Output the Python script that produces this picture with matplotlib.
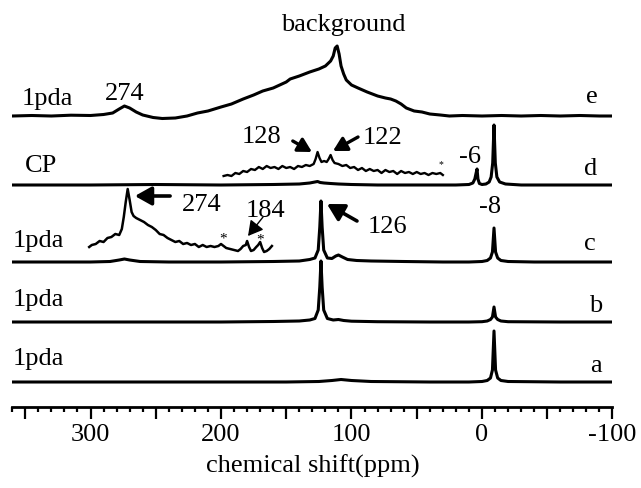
import matplotlib
matplotlib.use('Agg')
import matplotlib.pyplot as plt
from matplotlib.ticker import FixedLocator, MultipleLocator, FuncFormatter

plt.rcParams['font.family'] = ['Liberation Serif', 'DejaVu Serif']
plt.rcParams['axes.unicode_minus'] = False

# ---------------- data (ppm, intensity above each trace's baseline) ----------------
trace_labels = ['a', 'b', 'c', 'd', 'e']
left_labels = ['1pda', '1pda', '1pda', 'CP', '1pda']
offsets = [25, 85, 145, 222, 291]

e_ppm = [360, 345, 330, 315, 300, 290, 283, 278, 274, 270, 265, 260, 252, 245, 235, 226, 218, 210,
         200, 192, 183, 175, 168, 160, 155, 150, 147, 140, 132, 125, 120, 116, 114, 112.5, 111,
         109.5, 108, 106, 104, 100, 95, 88, 80, 74, 70, 66, 62, 58, 52, 46, 40, 32, 25, 15, 0,
         -15, -30, -45, -60, -75, -90, -100]
e_int = [0, 0.5, 0, 0.8, 0.5, 1.5, 3, 7, 10, 8, 4, 1, -1.5, -2.5, -2, 0, 3, 5,
         9, 12, 17, 21, 25, 28, 31, 34, 37, 40, 44, 47, 50, 55, 60, 68, 70,
         62, 50, 42, 36, 31, 28, 24, 20, 18, 17, 15, 12, 8, 5, 4, 2, 1, 0, 0.5, 0,
         0.5, 0, 0.5, 0, 0.5, 0, 0]

d_ppm = [360, 300, 250, 200, 160, 140, 132, 128, 126, 124, 121, 116, 110, 100, 80, 50, 20, 10, 7,
         5.5, 4.5, 3.8, 3.1, 2, 0, -3, -5.5, -7, -8.2, -9.2, -10.2, -11.4, -13.5, -18, -30, -60, -100]
d_int = [0, 0, 0.5, 0, 0.5, 1, 2, 3, 3.5, 2.5, 2, 1.5, 1, 0.5, 0, 0, 0, 0.5, 2,
         6, 12, 16, 6, 1.5, 0.5, 1, 3, 8, 22, 60, 22, 8, 3, 1, 0, 0, 0]

d_inset_ppm = [198, 195, 192, 189, 186, 183, 180, 177, 174, 171, 168, 165, 162, 159, 156, 153, 150,
               147, 144, 141, 138, 135, 132, 129, 127.5, 126, 124.5, 123, 121, 119, 117.5, 116,
               114.5, 113, 110, 107, 104, 101, 98, 95, 92, 89, 86, 83, 80, 77, 74, 71, 68, 65, 62,
               59, 56, 53, 50, 47, 44, 41, 38, 35, 32, 30]
d_inset_int = [9, 10, 9, 12, 11, 14, 13, 16, 15, 18, 16, 19, 17, 18, 16, 19, 17,
               18, 16, 19, 18, 20, 19, 21, 26, 33, 27, 23, 24, 23, 26, 30,
               25, 22, 21, 19, 20, 17, 18, 15, 17, 14, 16, 14, 15, 12, 15, 13, 14, 11, 14,
               12, 13, 11, 13, 11, 12, 10, 12, 11, 12, 10]

c_ppm = [360, 300, 285, 278, 274, 270, 262, 240, 200, 160, 140, 132, 128, 125.5, 124.3, 123.4,
         122.5, 121.3, 118.5, 115, 112, 110, 107, 103, 96, 85, 60, 30, 10, 0, -4, -6.5, -8,
         -9.2, -10.4, -12, -14.5, -20, -40, -100]
c_int = [0, 0, 0.5, 2, 3, 2, 0.5, 0, 0, 0.5, 1, 2.5, 4, 12, 35, 61,
         35, 12, 4, 3.5, 6, 7, 5, 2.5, 1.5, 1, 0.5, 0, 0, 0.5, 1.5, 4, 10,
         34, 10, 4, 1.5, 0.5, 0, 0]

c_inset_ppm = [301, 299, 296, 293, 290, 287, 284, 281, 278, 276, 274.5, 273, 271.5, 270, 268.5, 267,
               265, 262, 259, 256, 253, 250, 247, 244, 241, 238, 235, 232, 229, 226, 223, 220,
               217, 214, 211, 208, 205, 202, 200, 198, 196, 193, 190, 187, 185, 183, 181, 180,
               178.5, 177, 175, 173, 171.5, 170, 168.5, 167, 165, 163, 161]
c_inset_int = [15, 17, 18, 21, 20, 24, 25, 28, 27, 33, 45, 60, 73, 62, 50, 46,
               44, 42, 40, 37, 35, 32, 28, 27, 24, 22, 20, 21, 18, 19, 17, 18,
               15, 17, 15, 16, 15, 16, 18, 16, 14, 13, 12, 11, 13, 16, 17, 21,
               15, 11, 12, 15, 17, 20, 14, 10, 11, 13, 16]

b_ppm = [360, 300, 200, 160, 140, 132, 128, 125.5, 124.3, 123.4, 122.5, 121.3, 118.5, 114, 110,
         106, 100, 80, 40, 10, 0, -4, -6.5, -8, -9.2, -10.4, -12, -14.5, -20, -60, -100]
b_int = [0, 0, 0, 0.5, 1, 2, 3.5, 12, 35, 61, 35, 12, 3.5, 2, 2.5, 1.5, 0.8, 0.3, 0, 0, 0.3,
         1, 2.5, 5, 15, 5, 2.5, 1, 0.3, 0, 0]

a_ppm = [360, 300, 200, 150, 125, 115, 108, 100, 85, 40, 10, 0, -4, -6.5, -8, -9.2, -10.4, -12,
         -14.5, -20, -60, -100]
a_int = [0, 0, 0, 0, 0.5, 1.5, 2.5, 1.5, 0.5, 0, 0, 0.5, 1.5, 4, 12, 51, 12, 4, 1.5, 0.5, 0, 0]

# ---------------- figure ----------------
fig = plt.figure(figsize=(6.41, 4.89), dpi=100)
ax = fig.add_axes([12.2 / 641, 81 / 489, 600.3 / 641, 408 / 489])
ax.set_xlim(360, -100)
ax.set_ylim(0, 408)

lw = 2.2
traces = [(a_ppm, a_int), (b_ppm, b_int), (c_ppm, c_int), (d_ppm, d_int), (e_ppm, e_int)]
for (px, iy), off in zip(traces, offsets):
    ax.plot(px, [v + off for v in iy], color='black', lw=lw, solid_joinstyle='round')

ax.plot(c_inset_ppm, [v + offsets[2] for v in c_inset_int], color='black', lw=1.8)
ax.plot(d_inset_ppm, [v + offsets[3] for v in d_inset_int], color='black', lw=1.7)

fs = 19
# left labels
left_pos = [(359.5, 43), (359.5, 102), (359.5, 161), (350, 236), (352.5, 303)]
for (x, y), t in zip(left_pos, left_labels):
    ax.text(x, y, t, fontsize=fs, ha='left', va='baseline')
# right labels
right_pos = [(-87, 36), (-87, 96), (-83, 158), (-83, 233), (-84, 305)]
for (x, y), t in zip(right_pos, trace_labels):
    ax.text(x, y, t, fontsize=fs, ha='center', va='baseline')

ax.text(106.5, 383, 'background', fontsize=fs, ha='center', va='center')
ax.text(273.6, 308, '274', fontsize=fs, ha='center', va='baseline')

ax.text(168.6, 265, '128', fontsize=fs, ha='center', va='baseline')
ax.text(75.9, 264, '122', fontsize=fs, ha='center', va='baseline')
ax.text(9.2, 245, '-6', fontsize=fs, ha='center', va='baseline')
ax.text(-6.1, 195, '-8', fontsize=fs, ha='center', va='baseline')
ax.text(31.4, 243, '*', fontsize=7, ha='center', va='center')

ax.text(215, 197, '274', fontsize=fs, ha='center', va='baseline')
ax.text(166, 191, '184', fontsize=fs, ha='center', va='baseline')
ax.text(72.8, 175, '126', fontsize=fs, ha='center', va='baseline')
ax.text(198.5, 169, '*', fontsize=11, ha='center', va='center')
ax.text(170, 168, '*', fontsize=11, ha='center', va='center')

thick = dict(arrowstyle='-|>,head_length=0.5,head_width=0.28', lw=2.6, color='black',
             mutation_scale=20, shrinkA=0, shrinkB=0)
small = dict(arrowstyle='-|>,head_length=0.45,head_width=0.25', lw=2.4, color='black',
             mutation_scale=18, shrinkA=0, shrinkB=0)
thin = dict(arrowstyle='-|>,head_length=0.5,head_width=0.28', lw=1.0, color='black',
            mutation_scale=18, shrinkA=0, shrinkB=0)
ax.annotate('', xy=(130.3, 255), xytext=(145, 266), arrowprops=small)
ax.annotate('', xy=(114.2, 256), xytext=(95, 270), arrowprops=small)
ax.annotate('', xy=(266, 211), xytext=(239, 211), arrowprops=thick)
ax.annotate('', xy=(118.8, 203), xytext=(95.8, 186), arrowprops=thick)
ax.annotate('', xy=(179.3, 171), xytext=(167.8, 190), arrowprops=thin)

# axis styling
for s in ['left', 'right', 'top']:
    ax.spines[s].set_visible(False)
ax.spines['bottom'].set_linewidth(2.0)
ax.set_yticks([])
major = [350, 300, 250, 200, 150, 100, 50, 0, -50, -100]
ax.xaxis.set_major_locator(FixedLocator(major))
ax.xaxis.set_major_formatter(FuncFormatter(lambda v, p: '%d' % v if int(v) % 100 == 0 else ''))
ax.xaxis.set_minor_locator(MultipleLocator(10))
ax.tick_params(axis='x', which='major', direction='out', length=8.6, width=1.6,
               labelsize=fs, pad=3)
ax.tick_params(axis='x', which='minor', direction='out', length=3.8, width=1.6)
ax.set_xlabel('chemical shift(ppm)', fontsize=fs, labelpad=6)

fig.savefig('out.png', dpi=100)
